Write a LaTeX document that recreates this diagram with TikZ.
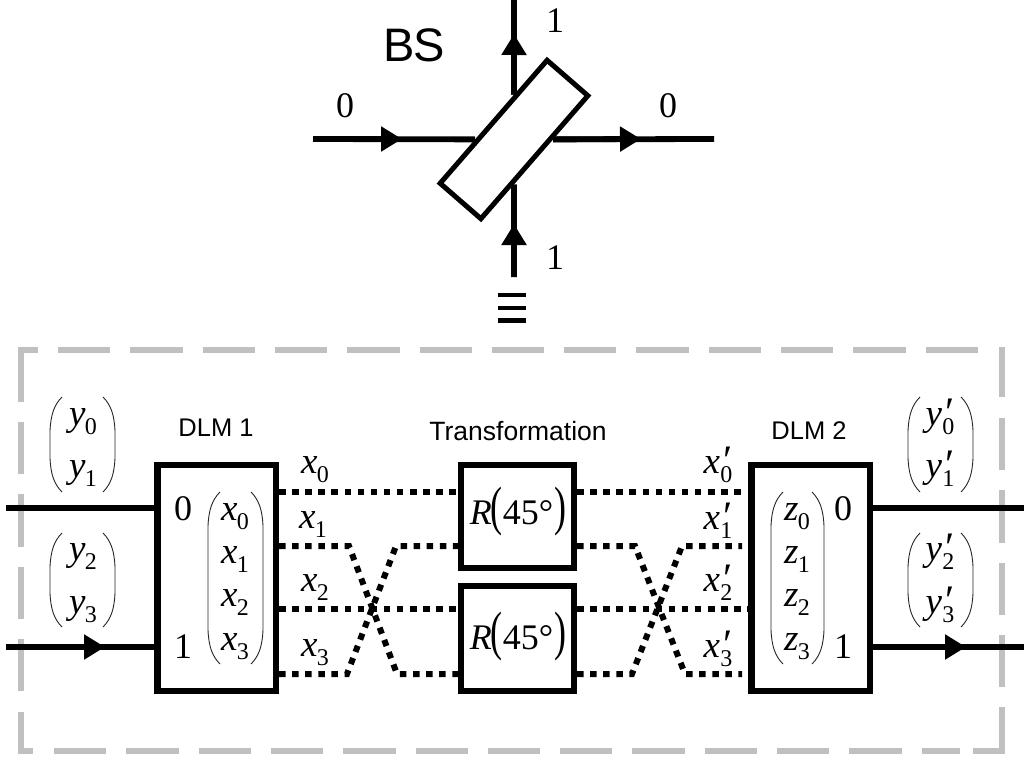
\documentclass[tikz,border=0pt]{standalone}
\usepackage{fontspec}
\setmainfont{Liberation Serif}
\newfontfamily\arialish{Liberation Sans}
\usetikzlibrary{arrows.meta}
\definecolor{framegray}{HTML}{C0C0C0}
\newcommand{\fs}[1]{\fontsize{#1}{#1}\selectfont}
\newcommand{\mv}[2]{{\fs{37}\itshape #1\/}\kern-0.5pt\raisebox{-9pt}{\fs{24}#2}}
\newcommand{\mvp}[2]{{\fs{37}\itshape #1\/}\kern0.5pt\rlap{\raisebox{-1pt}{\kern3pt\fs{42}\char"2032}}\raisebox{-9pt}{\fs{24}#2}}
\newcommand{\rtext}{\textit{R}\kern-1pt\raisebox{0pt}{\scalebox{1}[1.5]{(}}45°\kern1pt\scalebox{1}[1.5]{)}}
\newcommand{\bigparens}[4]{%
  \draw[paren] (#1+12,#3) .. controls (#1+4,#3+8) and (#1+0.7,#3+18) .. (#1,#3+34) -- (#1,#4-34) .. controls (#1+0.7,#4-18) and (#1+4,#4-8) .. (#1+12,#4);
  \draw[paren] (#2-12,#3) .. controls (#2-4,#3+8) and (#2-0.7,#3+18) .. (#2,#3+34) -- (#2,#4-34) .. controls (#2-0.7,#4-18) and (#2-4,#4-8) .. (#2-12,#4);}
\tikzset{
  wire/.style={line width=5.8pt,draw=black},
  wirearrow/.style={wire,-{Triangle[length=21pt,width=24pt]}},
  dotwire/.style={line width=6pt,draw=black,dash pattern=on 6.5pt off 6.6pt},
  boxnode/.style={draw=black,fill=white,line width=6.4pt,inner sep=0pt,rectangle},
  frameside/.style={line width=6pt,draw=framegray,dash pattern=on 52.3pt off 20pt},
  framecorner/.style={line width=6pt,draw=framegray},
  paren/.style={line width=0.9pt,draw=black!85},
  lab/.style={inner sep=0pt,anchor=base},
  num/.style={lab,font=\fs{36}},
  sanslab/.style={inner sep=0pt,font=\arialish\fs{25.5}},
  rlab/.style={inner sep=0pt,anchor=base,font=\fs{36}},
  bar/.style={fill=black,inner sep=0pt,minimum width=28pt,minimum height=4.5pt}
}
\begin{document}
\begin{tikzpicture}[x=1pt,y=-1pt]
\useasboundingbox (0,0) rectangle (1024,760);
% dashed frame
\draw[framecorner,line cap=butt] (38,350) -- (21,350) -- (21,402);
\draw[frameside] (58,350) -- (980,350);
\draw[framecorner] (1002,347) -- (1002,397);
\draw[frameside] (1002,418) -- (1002,690);
\draw[framecorner] (1002,707) -- (1002,751) -- (973,751);
\draw[frameside] (54,751) -- (960,751);
\draw[frameside] (21,422) -- (21,694);
\draw[framecorner] (21,712) -- (21,751) -- (33,751);
% beam splitter
\node[boxnode,line width=5pt,minimum width=163pt,minimum height=54pt,rotate=49] (bs) at (514,139.5) {};
\coordinate (bsinL) at (313,139);
\coordinate (bsinLm) at (402,139);
\coordinate (bsoutR) at (714,139);
\coordinate (bsoutRm) at (641,139);
\coordinate (bstop) at (514,0);
\coordinate (bstopm) at (514,34);
\coordinate (bsbot) at (514,277);
\coordinate (bsbotm) at (514,224);
\draw[wire] (bsinL) -- (bs);
\draw[wirearrow] (bsinL) -- (bsinLm);
\draw[wire] (bs) -- (bsoutR);
\draw[wirearrow] (bs) -- (bsoutRm);
\draw[wire] (bs) -- (bstop);
\draw[wirearrow] (bs) -- (bstopm);
\draw[wire] (bsbot) -- (bs);
\draw[wirearrow] (bsbot) -- (bsbotm);
\node[inner sep=0pt,font=\arialish\fs{47}] (bslabel) at (414,45) {B\kern-2pt S};
\node[num] (l0a) at (345,117) {0};
\node[num] (l0b) at (668,117) {0};
\node[num] (l1a) at (555,33) {1};
\node[num] (l1b) at (555,269) {1};
\node[bar] (eq1) at (512,295) {};
\node[bar] (eq2) at (512,308) {};
\node[bar] (eq3) at (512,320.5) {};
% boxes
\node[boxnode,minimum width=118.5pt,minimum height=226pt] (dlm1) at (216.8,578) {};
\node[boxnode,minimum width=118.5pt,minimum height=226pt] (dlm2) at (810.8,578) {};
\node[boxnode,minimum width=113pt,minimum height=103pt] (r1) at (517.5,516.5) {};
\node[boxnode,minimum width=113pt,minimum height=105pt] (r2) at (517.5,638.5) {};
\node[sanslab] (dl1) at (216,428) {DLM 1};
\node[sanslab] (dl2) at (809,431) {DLM 2};
\node[sanslab,font=\arialish\fs{26.5}] (tr) at (518,431) {Transformation};
\node[rlab] (rt1) at (518,524) {\rtext};
\node[rlab] (rt2) at (518,649) {\rtext};
% solid wires
\coordinate (inA) at (6,508);
\coordinate (inB) at (6,647);
\coordinate (inBm) at (105,647);
\coordinate (outA) at (1024,508);
\coordinate (outB) at (1024,647);
\coordinate (outBm) at (966,647);
\draw[wire] (inA) -- (dlm1.west |- inA);
\draw[wire] (inB) -- (dlm1.west |- inB);
\draw[wirearrow] (inB) -- (inBm);
\draw[wire] (dlm2.east |- outA) -- (outA);
\draw[wire] (dlm2.east |- outB) -- (outB);
\draw[wirearrow] (dlm2.east |- outB) -- (outBm);
% dotted wires, left
\coordinate (a0) at (279,492);
\coordinate (a1) at (279,546);
\coordinate (a2) at (279,608.5);
\coordinate (a3) at (279,674);
\coordinate (b0) at (458,492);
\coordinate (b1) at (458,546);
\coordinate (b2) at (458,608.5);
\coordinate (b3) at (458,674);
\coordinate (ka1) at (349,546);
\coordinate (ka3) at (347,674);
\coordinate (kb1) at (396,546);
\coordinate (kb3) at (397,674);
\draw[dotwire] (a0) -- (b0);
\draw[dotwire] (a2) -- (b2);
\draw[dotwire] (a1) -- (ka1) -- (kb3) -- (b3);
\draw[dotwire] (a3) -- (ka3) -- (kb1) -- (b1);
% dotted wires, right
\coordinate (c0) at (577,492);
\coordinate (c1) at (577,546);
\coordinate (c2) at (577,608.5);
\coordinate (c3) at (577,674);
\coordinate (d0) at (742,492);
\coordinate (d1) at (742,546);
\coordinate (d2) at (748,608.5);
\coordinate (d3) at (742,674);
\coordinate (kc1) at (635,546);
\coordinate (kc3) at (632,674);
\coordinate (kd1) at (682,546);
\coordinate (kd3) at (685,674);
\draw[dotwire] (c0) -- (d0);
\draw[dotwire] (c2) -- (d2);
\draw[dotwire] (c1) -- (kc1) -- (kd3) -- (d3);
\draw[dotwire] (c3) -- (kc3) -- (kd1) -- (d1);
% digit labels in boxes
\node[num] (n0a) at (183,520) {0};
\node[num] (n1a) at (183,658) {1};
\node[num] (n0b) at (843,520) {0};
\node[num] (n1b) at (843,658) {1};
% parentheses
\bigparens{50}{115}{397}{492}
\bigparens{50}{115}{533}{627}
\bigparens{908}{973}{397}{492}
\bigparens{908}{973}{533}{627}
\bigparens{208}{263}{492}{664}
\bigparens{771}{824}{492}{664}
% vector entries
\node[lab] (y0) at (83,425) {\mv{y}{0}};
\node[lab] (y1) at (83,477) {\mv{y}{1}};
\node[lab] (y2) at (83,560) {\mv{y}{2}};
\node[lab] (y3) at (83,613) {\mv{y}{3}};
\node[lab] (yp0) at (940,425) {\mvp{y}{0}};
\node[lab] (yp1) at (940,477) {\mvp{y}{1}};
\node[lab] (yp2) at (940,560) {\mvp{y}{2}};
\node[lab] (yp3) at (940,613) {\mvp{y}{3}};
\node[lab] (mx0) at (235,520) {\mv{x}{0}};
\node[lab] (mx1) at (235,563) {\mv{x}{1}};
\node[lab] (mx2) at (235,606) {\mv{x}{2}};
\node[lab] (mx3) at (235,650) {\mv{x}{3}};
\node[lab] (mz0) at (797,520) {\mv{z}{0}};
\node[lab] (mz1) at (797,563) {\mv{z}{1}};
\node[lab] (mz2) at (797,606) {\mv{z}{2}};
\node[lab] (mz3) at (797,650) {\mv{z}{3}};
\node[lab] (lx0) at (315,473) {\mv{x}{0}};
\node[lab] (lx1) at (313,528) {\mv{x}{1}};
\node[lab] (lx2) at (315,591) {\mv{x}{2}};
\node[lab] (lx3) at (315,656) {\mv{x}{3}};
\node[lab] (rx0) at (718,473) {\mvp{x}{0}};
\node[lab] (rx1) at (718,529) {\mvp{x}{1}};
\node[lab] (rx2) at (718,591) {\mvp{x}{2}};
\node[lab] (rx3) at (718,657) {\mvp{x}{3}};
\end{tikzpicture}
\end{document}
